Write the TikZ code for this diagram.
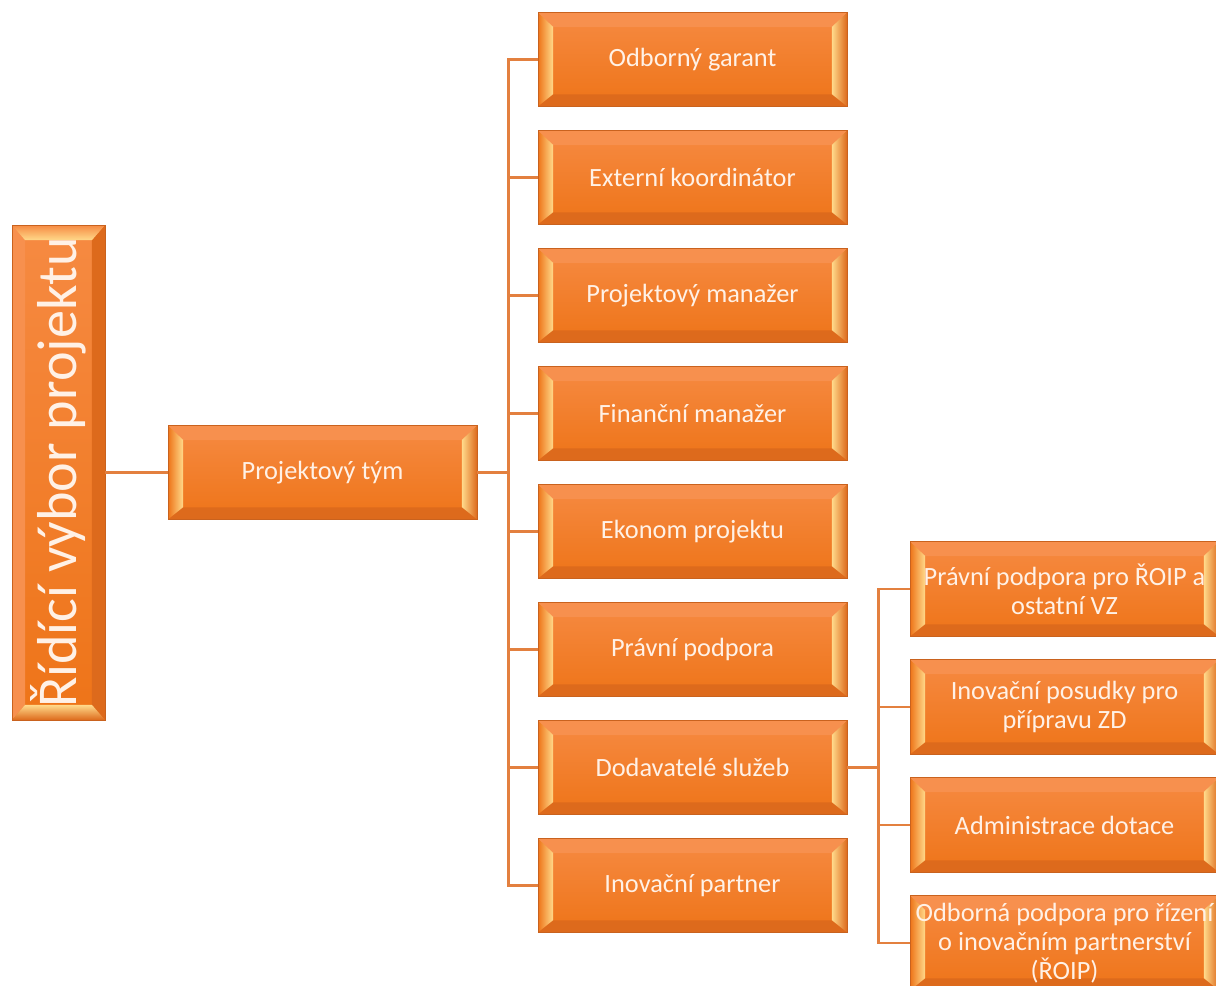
\documentclass[tikz,border=0pt]{standalone}
\usepackage{fontspec}
\setmainfont{Carlito}
\usepackage{graphicx}
\usepackage{tikz}
\usetikzlibrary{positioning,calc}
\definecolor{porange}{HTML}{F47D25}
\definecolor{porangel}{HTML}{F68A42}
\definecolor{poranged}{HTML}{EE7418}
\definecolor{ptopbev}{HTML}{F7904E}
\definecolor{pbotbev}{HTML}{DD6A1C}
\definecolor{pyellow}{HTML}{FFD98A}
\definecolor{pedge}{HTML}{C9621E}
\definecolor{pline}{HTML}{E3803F}
\definecolor{ptext}{HTML}{FFF1E6}
% bevelled rim, light ends left and right
\newcommand{\hbevel}{%
  \coordinate (NW) at (path picture bounding box.north west);
  \coordinate (NE) at (path picture bounding box.north east);
  \coordinate (SW) at (path picture bounding box.south west);
  \coordinate (SE) at (path picture bounding box.south east);
  \coordinate (nw) at ([shift={(0.30cm,-0.28cm)}]NW);
  \coordinate (ne) at ([shift={(-0.30cm,-0.28cm)}]NE);
  \coordinate (sw) at ([shift={(0.30cm,0.24cm)}]SW);
  \coordinate (se) at ([shift={(-0.30cm,0.24cm)}]SE);
  \fill[ptopbev] (NW) -- (NE) -- (ne) -- (nw) -- cycle;
  \fill[pbotbev] (SW) -- (SE) -- (se) -- (sw) -- cycle;
  \shade[left color=poranged, right color=pyellow] (NW) -- (nw) -- (sw) -- (SW) -- cycle;
  \shade[left color=pyellow, right color=pbotbev] (NE) -- (ne) -- (se) -- (SE) -- cycle;
}
% same rim, light ends top and bottom
\newcommand{\vbevel}{%
  \coordinate (NW) at (path picture bounding box.north west);
  \coordinate (NE) at (path picture bounding box.north east);
  \coordinate (SW) at (path picture bounding box.south west);
  \coordinate (SE) at (path picture bounding box.south east);
  \coordinate (nw) at ([shift={(0.26cm,-0.30cm)}]NW);
  \coordinate (ne) at ([shift={(-0.26cm,-0.30cm)}]NE);
  \coordinate (sw) at ([shift={(0.26cm,0.30cm)}]SW);
  \coordinate (se) at ([shift={(-0.26cm,0.30cm)}]SE);
  \fill[ptopbev] (NW) -- (nw) -- (sw) -- (SW) -- cycle;
  \fill[pbotbev] (NE) -- (ne) -- (se) -- (SE) -- cycle;
  \shade[top color=porangel, bottom color=pyellow] (NW) -- (NE) -- (ne) -- (nw) -- cycle;
  \shade[top color=pyellow, bottom color=pbotbev] (SW) -- (SE) -- (se) -- (sw) -- cycle;
}
\tikzset{
  obox/.style = {rectangle, draw=pedge, line width=0.5pt, top color=porangel, bottom color=poranged,
                 text=ptext, align=center, inner sep=1pt, font=\fontsize{15}{16.5}\selectfont,
                 minimum width=6.18cm, minimum height=1.87cm, path picture={\hbevel}},
  vbox/.style = {obox, minimum width=1.86cm, minimum height=9.9cm,
                 font=\fontsize{32}{36}\selectfont, path picture={\vbevel}},
  conn/.style = {draw=pline, line width=1.4pt},
}

\begin{document}
\begin{tikzpicture}[x=0.02cm, y=-0.02cm]
\useasboundingbox (0,0) rectangle (1216,985);
% root and team
\node[vbox] (ridici) at (58.5,472.5) {\rotatebox{90}{Řídící výbor projektu}};
\node[obox] (tym) at (322.5,472.5) {Projektový tým};
\draw[conn] (ridici.east) -- (tym.west);
% team members
\foreach \nm/\txt [count=\i from 0] in {garant/Odborný garant, koord/Externí koordinátor,
    pmanazer/Projektový manažer, fmanazer/Finanční manažer, ekonom/Ekonom projektu,
    pravni/Právní podpora, dodav/Dodavatelé služeb, partner/Inovační partner}
  \node[obox] (\nm) at (692.5,59.5+118*\i) {\txt};
\foreach \nm in {garant,koord,pmanazer,fmanazer,ekonom,pravni,dodav,partner}
  \draw[conn] (tym.east) -- ++(31,0) |- (\nm.west);
% suppliers
\foreach \nm/\txt [count=\i from 0] in {roip/{Právní podpora pro ŘOIP a\\ostatní VZ},
    posudky/{Inovační posudky pro\\přípravu ZD}, admin/Administrace dotace,
    odborna/{Odborná podpora pro řízení\\o inovačním partnerství\\(ŘOIP)}}
  \node[obox, minimum height=1.89cm] (\nm) at (1064.5,589+118*\i) {\txt};
\foreach \nm in {roip,posudky,admin,odborna}
  \draw[conn] (dodav.east) -- ++(31,0) |- (\nm.west);
\end{tikzpicture}
\end{document}
